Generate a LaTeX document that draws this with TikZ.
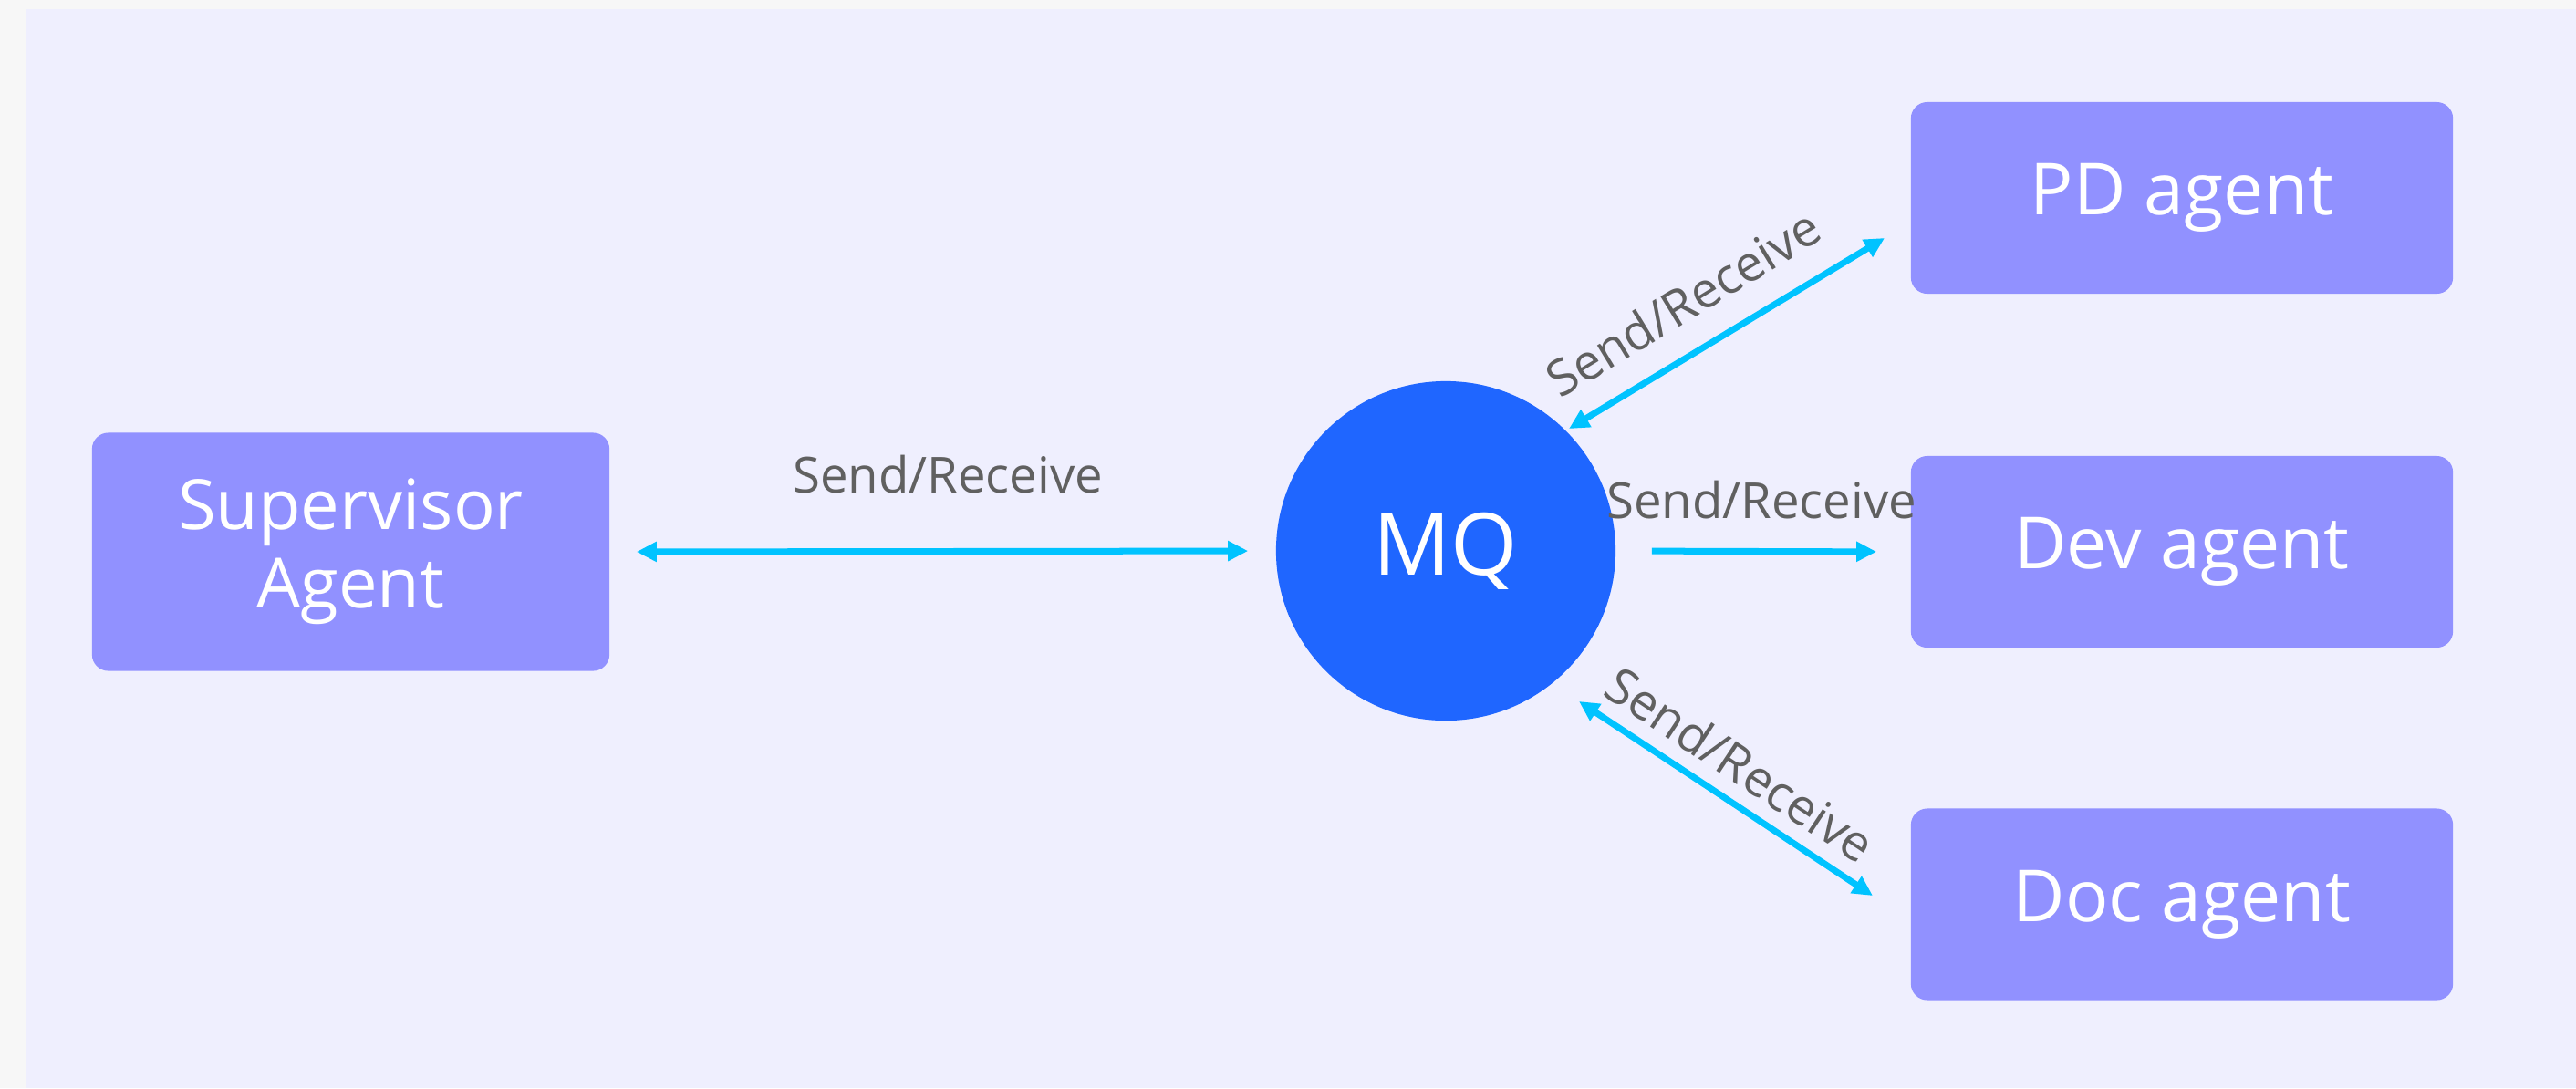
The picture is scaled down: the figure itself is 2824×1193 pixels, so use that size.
\documentclass[tikz,border=0pt]{standalone}
\usepackage{fontspec}
\setmainfont{Open Sans}
\usetikzlibrary{arrows.meta}
\definecolor{outerbg}{HTML}{F7F7F7}
\definecolor{panelbg}{HTML}{EFEFFE}
\definecolor{agentfill}{HTML}{9191FF}
\definecolor{mqfill}{HTML}{1F66FF}
\definecolor{linkblue}{HTML}{00C3FF}
\definecolor{labelgray}{HTML}{606060}
\begin{document}
\begin{tikzpicture}[x=0.01cm,y=-0.01cm,
  agent/.style={rectangle, rounded corners=0.18cm, fill=agentfill, minimum width=5.94cm, minimum height=2.1cm, text=white, font=\fontsize{22.4}{24.5}\selectfont, align=center, inner sep=0},
  mqnode/.style={circle, fill=mqfill, minimum size=3.72cm, inner sep=0, text=white, font=\fontsize{26.8}{30}\selectfont},
  tipA/.tip={Triangle[length=0.22cm,width=0.21cm]},
  twoway/.style={draw=linkblue, line width=0.07cm, tipA-tipA},
  oneway/.style={draw=linkblue, line width=0.07cm, -tipA},
  lbl/.style={text=labelgray, font=\fontsize{15.5}{18}\selectfont, inner sep=0}
]
\fill[outerbg] (0,0) rectangle (2824,1193);
\fill[panelbg] (28,10) rectangle (2824,1193);
\useasboundingbox (0,0) rectangle (2824,1193);

\node[agent, minimum width=5.67cm, minimum height=2.61cm, font=\fontsize{21.6}{24.5}\selectfont] (sup) at (384.5,605) {Supervisor\\Agent};
\node[agent] (pd) at (2392,217) {PD agent};
\node[agent] (dev) at (2392,605) {Dev agent};
\node[agent] (doc) at (2392,991.5) {Doc agent};
\node[mqnode] (mq) at (1585,604) {MQ};

\coordinate (pdA) at (1720,470);
\coordinate (pdB) at (2066,261);
\coordinate (docA) at (1731,769);
\coordinate (docB) at (2053,982);

\draw[twoway, shorten <=0.29cm, shorten >=0.30cm] (sup.east) -- (mq.west);
\draw[oneway, shorten <=0.39cm, shorten >=0.37cm] (mq.east) -- (dev.west);
\draw[twoway] (pdA) -- (pdB);
\draw[twoway] (docA) -- (docB);

\node[lbl, anchor=base] (lh) at (1039,540) {Send/Receive};
\node[lbl, anchor=base] (ld) at (1931,568) {Send/Receive};
\node[lbl, rotate=31.4] (lpd) at (1845,332) {Send/Receive};
\node[lbl, rotate=-33.5] (ldoc) at (1908,838) {Send/Receive};
\end{tikzpicture}
\end{document}
